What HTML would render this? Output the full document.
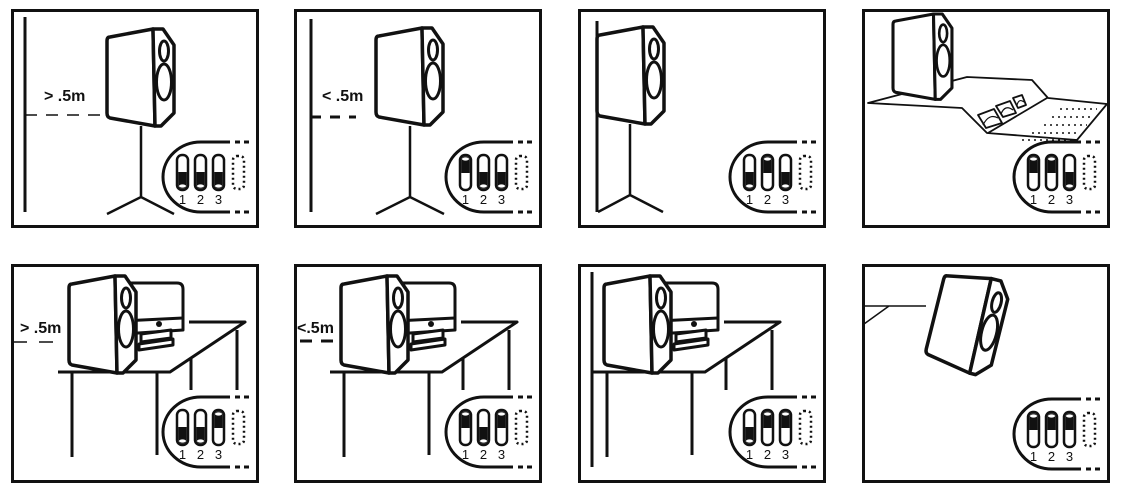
<!DOCTYPE html>
<html><head><meta charset="utf-8"><style>
html,body{margin:0;padding:0;background:#fff;}
svg{display:block;}
text{font-family:"Liberation Sans",sans-serif;fill:#111;}
</style></head><body>
<svg width="1126" height="498" viewBox="0 0 1126 498" xmlns="http://www.w3.org/2000/svg">
<defs>
<g id="spk" fill="#fff" stroke="#111" stroke-width="3.5" stroke-linejoin="round">
  <path d="M3,8 L46,0 L48,97 L3,89 Q0,88 0,84 L0,12 Q0,8 3,8 Z"/>
  <path d="M46,0 L56,0 L67,16 L67,84 L54,97 L48,97 Z"/>
  <ellipse cx="57" cy="22" rx="4.5" ry="10" stroke-width="3"/>
  <ellipse cx="57" cy="53" rx="7.5" ry="18" stroke-width="3"/>
</g>
<g id="swD"><rect x="0" y="0" width="11" height="35" rx="5" fill="#fff" stroke="#111" stroke-width="2.5"/><path d="M1.2,17 H9.8 V29 Q9.8,33.8 5.5,33.8 Q1.2,33.8 1.2,29 Z" fill="#111"/><ellipse cx="5.5" cy="31" rx="3.5" ry="1.6" fill="#fff"/></g>
<g id="swU"><rect x="0" y="0" width="11" height="35" rx="5" fill="#fff" stroke="#111" stroke-width="2.5"/><path d="M1.2,18 H9.8 V6 Q9.8,1.2 5.5,1.2 Q1.2,1.2 1.2,6 Z" fill="#111"/><ellipse cx="5.5" cy="4" rx="3.5" ry="1.6" fill="#fff"/></g>
<g id="badge">
  <path d="M219,133 L190,133 A38,35 0 0 0 152,168 A38,35 0 0 0 190,203 L219,203" fill="none" stroke="#111" stroke-width="3"/>
  <path d="M224,133 H242 M224,203 H242" stroke="#111" stroke-width="3" stroke-dasharray="5,4"/>
  <rect x="222" y="147" width="11" height="33" rx="4" fill="none" stroke="#111" stroke-width="2.5" stroke-dasharray="2,3"/>
  <text x="171.5" y="195" font-size="13" text-anchor="middle">1</text>
  <text x="189.5" y="195" font-size="13" text-anchor="middle">2</text>
  <text x="207.5" y="195" font-size="13" text-anchor="middle">3</text>
</g>
<g id="box"><rect x="1.5" y="1.5" width="245" height="216" fill="#fff" stroke="#111" stroke-width="3"/></g>
<g id="desk" fill="#fff" stroke="#111" stroke-width="3" stroke-linejoin="round">
  <path d="M112,27 Q112,19 120,19 L166,19 Q172,19 172,25 L172,66 L112,70 Z"/>
  <path d="M112,57 L172,54" />
  <circle cx="148" cy="60" r="3" fill="#111" stroke="none"/>
  <path d="M130,70 L160,66 L160,74 L130,78 Z"/>
  <path d="M128,80 L162,75 L162,81 L128,86 Z"/>
  <path d="M47,108 L159,108 L234,58 L178,58" fill="none"/>
  <path d="M61,108 V193 M146,108 V191 M180,94 V126 M226,66 V126" fill="none"/>
</g>
</defs>

<!-- Panel 1 -->
<g transform="translate(11,9)">
  <use href="#box"/>
  <path d="M14,8 V203" stroke="#111" stroke-width="3"/>
  <path d="M14,106 H89" stroke="#111" stroke-width="1.5" stroke-dasharray="12,9"/>
  <text x="33" y="92" font-size="16" font-weight="bold">&gt; .5m</text>
  <path d="M130,117 V188 M96,205 L130,188 L163,205" fill="none" stroke="#111" stroke-width="2.5"/>
  <use href="#spk" transform="translate(96,20)"/>
  <use href="#badge"/>
  <use href="#swD" x="166" y="146"/><use href="#swD" x="184" y="146"/><use href="#swD" x="202" y="146"/>
</g>
<!-- Panel 2 -->
<g transform="translate(294,9)">
  <use href="#box"/>
  <path d="M17,10 V203" stroke="#111" stroke-width="3"/>
  <path d="M17,108 H62" stroke="#111" stroke-width="3" stroke-dasharray="10,9"/>
  <text x="28" y="92" font-size="16" font-weight="bold">&lt; .5m</text>
  <path d="M116,117 V188 M82,205 L116,188 L150,205" fill="none" stroke="#111" stroke-width="2.5"/>
  <use href="#spk" transform="translate(82,19)"/>
  <use href="#badge"/>
  <use href="#swU" x="166" y="146"/><use href="#swD" x="184" y="146"/><use href="#swD" x="202" y="146"/>
</g>
<!-- Panel 3 -->
<g transform="translate(578,9)">
  <use href="#box"/>
  <path d="M19,12 V203" stroke="#111" stroke-width="3"/>
  <path d="M52,115 V186 M20,203 L52,186 L85,203" fill="none" stroke="#111" stroke-width="2.5"/>
  <use href="#spk" transform="translate(19,18)"/>
  <use href="#badge"/>
  <use href="#swD" x="166" y="146"/><use href="#swU" x="184" y="146"/><use href="#swD" x="202" y="146"/>
</g>
<!-- Panel 4 -->
<g transform="translate(862,9)">
  <use href="#box"/>
  <g fill="none" stroke="#111" stroke-width="1.8" stroke-linejoin="round">
    <path d="M6,94 L105,68 L170,71 L186,89 L245,95 L215,131 L125,124 L100,99 Z" fill="#fff"/>
    <path d="M185,89 L126,124"/>
    <path d="M116,106 L132,100 L140,114 L124,119 Z M134,97 L148,92 L154,104 L141,108 Z M151,89 L160,86 L164,96 L156,99 Z"/>
    <path d="M121,116 Q127,104 136,109 M139,105 Q143,95 151,101 M155,96 Q157,89 162,93" stroke-width="1.2"/>
  </g>
  <g stroke="#111" stroke-width="1.6" stroke-dasharray="2,4">
    <path d="M198,100 H235 M190,108 H230 M182,116 H225 M170,124 H218 M160,131 H210"/>
  </g>
  <use href="#spk" transform="translate(31,5) scale(0.88)"/>
  <use href="#badge"/>
  <use href="#swU" x="166" y="146"/><use href="#swU" x="184" y="146"/><use href="#swD" x="202" y="146"/>
</g>
<!-- Panel 5 -->
<g transform="translate(11,264)">
  <use href="#box"/>
  <use href="#desk"/>
  <path d="M2,78 H47" stroke="#111" stroke-width="1.5" stroke-dasharray="14,12"/>
  <text x="9" y="69" font-size="16" font-weight="bold">&gt; .5m</text>
  <use href="#spk" transform="translate(58,12)"/>
  <use href="#badge"/>
  <use href="#swD" x="166" y="146"/><use href="#swD" x="184" y="146"/><use href="#swU" x="202" y="146"/>
</g>
<!-- Panel 6 -->
<g transform="translate(294,264)">
  <use href="#box"/>
  <use href="#desk" transform="translate(-11,0)"/>
  <path d="M6,77 H44" stroke="#111" stroke-width="3" stroke-dasharray="12,9"/>
  <text x="3" y="69" font-size="16" font-weight="bold">&lt;.5m</text>
  <use href="#spk" transform="translate(47,12)"/>
  <use href="#badge"/>
  <use href="#swU" x="166" y="146"/><use href="#swD" x="184" y="146"/><use href="#swU" x="202" y="146"/>
</g>
<!-- Panel 7 -->
<g transform="translate(578,264)">
  <use href="#box"/>
  <use href="#desk" transform="translate(-32,0)"/>
  <path d="M14,8 V203" stroke="#111" stroke-width="3"/>
  <use href="#spk" transform="translate(26,12)"/>
  <use href="#badge"/>
  <use href="#swD" x="166" y="146"/><use href="#swU" x="184" y="146"/><use href="#swU" x="202" y="146"/>
</g>
<!-- Panel 8 -->
<g transform="translate(862,264)">
  <use href="#box"/>
  <path d="M2,42 H64 M2,60 L27,42" fill="none" stroke="#111" stroke-width="1.5"/>
  <use href="#spk" transform="translate(72,10) rotate(14 33 48)"/>
  <use href="#badge" transform="translate(0,2)"/>
  <use href="#swU" x="166" y="148"/><use href="#swU" x="184" y="148"/><use href="#swU" x="202" y="148"/>
</g>
</svg>
</body></html>
